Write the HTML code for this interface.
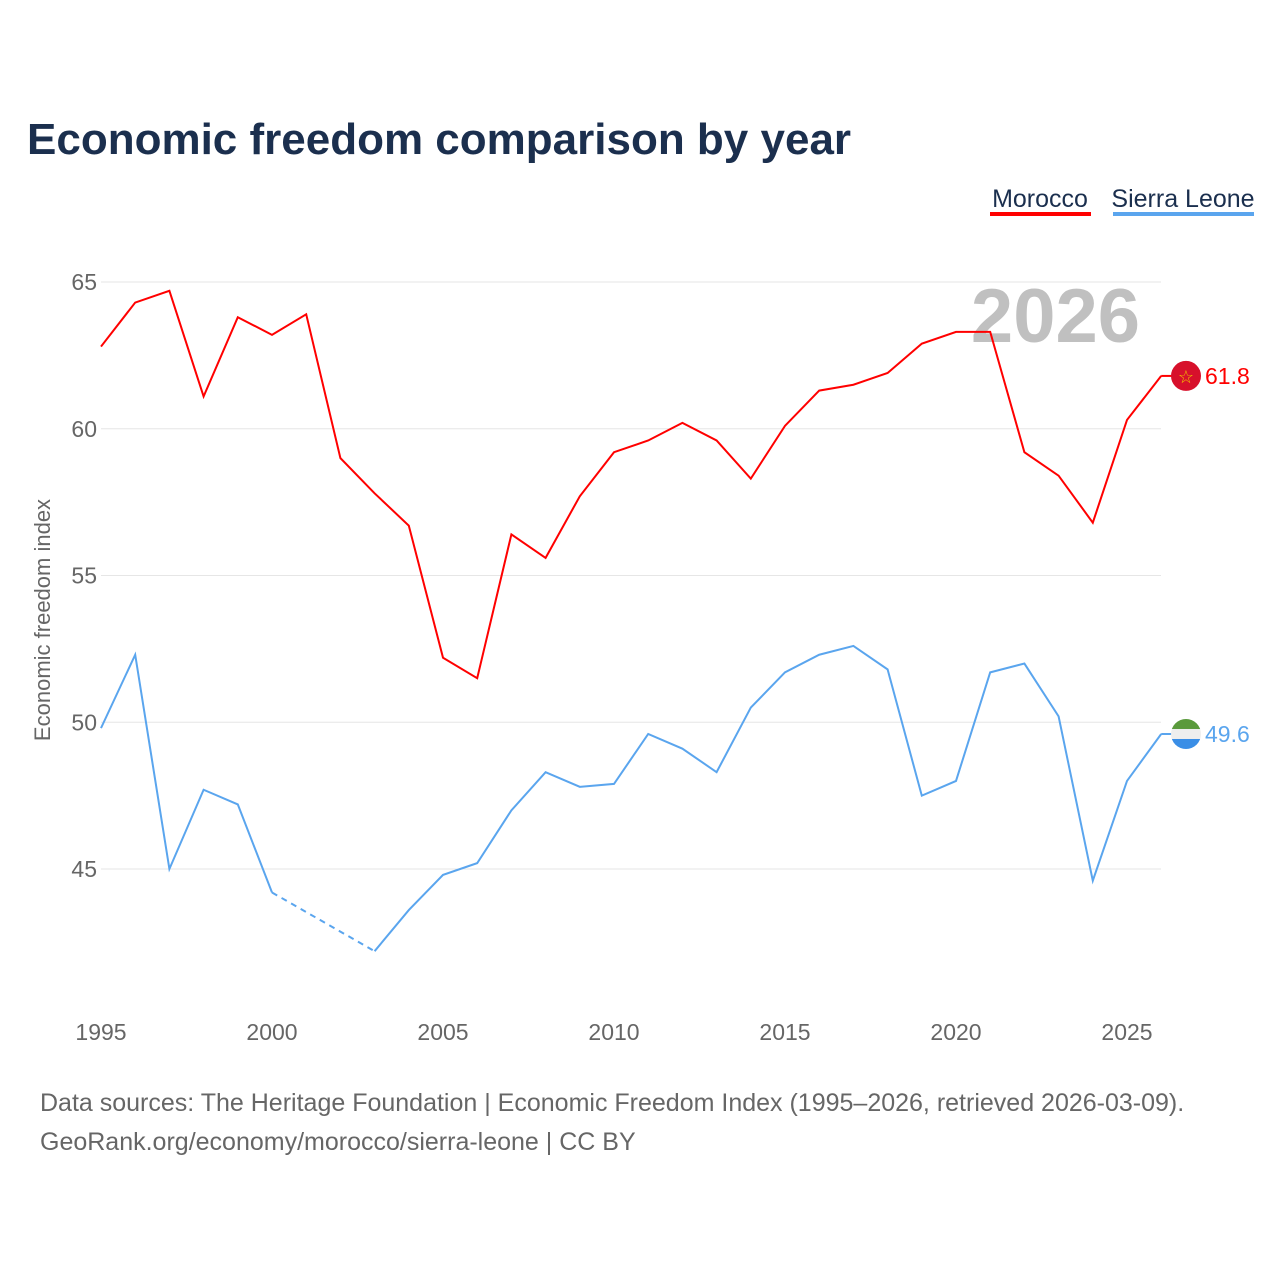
<!DOCTYPE html>
<html><head><meta charset="utf-8"><style>
body{margin:0;background:#fff;font-family:"Liberation Sans",sans-serif;}
</style></head><body>
<svg width="1280" height="1280" xmlns="http://www.w3.org/2000/svg">
<text x="27" y="154" font-size="44" font-weight="bold" fill="#1b2f4e">Economic freedom comparison by year</text>
<g>
<text x="1040" y="207" font-size="25" fill="#1b2f4e" text-anchor="middle">Morocco</text>
<rect x="990" y="212" width="101" height="4" fill="#f00"/>
<text x="1183" y="207" font-size="25" fill="#1b2f4e" text-anchor="middle">Sierra Leone</text>
<rect x="1113" y="212" width="141" height="4" fill="#5aa5ee"/>
</g>
<text x="1140" y="342" font-size="76" font-weight="bold" fill="#c0c0c0" text-anchor="end">2026</text>
<text transform="translate(50,620) rotate(-90)" font-size="22" fill="#666" text-anchor="middle">Economic freedom index</text>
<g id="grid"></g><g id="xt"></g><g id="lines"></g>
<text x="40" y="1111" font-size="25" fill="#666">Data sources: The Heritage Foundation | Economic Freedom Index (1995–2026, retrieved 2026-03-09).</text>
<text x="40" y="1150" font-size="25" fill="#666">GeoRank.org/economy/morocco/sierra-leone | CC BY</text>
</svg>
<script>
const years=[1995,1996,1997,1998,1999,2000,2001,2002,2003,2004,2005,2006,2007,2008,2009,2010,2011,2012,2013,2014,2015,2016,2017,2018,2019,2020,2021,2022,2023,2024,2025,2026];
const morocco=[62.8,64.3,64.7,61.1,63.8,63.2,63.9,59.0,57.8,56.7,52.2,51.5,56.4,55.6,57.7,59.2,59.6,60.2,59.6,58.3,60.1,61.3,61.5,61.9,62.9,63.3,63.3,59.2,58.4,56.8,60.3,61.8];
const sierra=[49.8,52.3,45.0,47.7,47.2,44.2,null,null,42.2,43.6,44.8,45.2,47.0,48.3,47.8,47.9,49.6,49.1,48.3,50.5,51.7,52.3,52.6,51.8,47.5,48.0,51.7,52.0,50.2,44.6,48.0,49.6];
const yTicks=[45,50,55,60,65];
const xTicks=[1995,2000,2005,2010,2015,2020,2025];
const NS="http://www.w3.org/2000/svg";
const X=y=>101+(y-1995)*34.2;
const Y=v=>282+(65-v)*29.35;
function mk(t,a,p){const e=document.createElementNS(NS,t);for(const k in a)e.setAttribute(k,a[k]);p.appendChild(e);return e;}
const grid=document.getElementById('grid'),xt=document.getElementById('xt'),L=document.getElementById('lines');
yTicks.forEach(v=>{
 const l=mk('line',{x1:101,x2:1161,y1:Y(v),y2:Y(v),stroke:'#e6e6e6','stroke-width':1},grid);
 
 
 const t=mk('text',{x:97,y:Y(v)+8,'font-size':23,fill:'#666','text-anchor':'end'},grid);t.textContent=v;
 
 
});
xTicks.forEach(y=>{
 const t=mk('text',{x:X(y),y:1040,'font-size':23,fill:'#666','text-anchor':'middle'},xt);t.textContent=y;
 
 
});
function series(vals,color,name){
 let seg=[],segs=[];
 vals.forEach((v,i)=>{if(v==null){if(seg.length)segs.push(seg);seg=[];}else seg.push([X(years[i]),Y(v)]);});
 if(seg.length)segs.push(seg);
 segs.forEach((s,k)=>{
  const p=mk('polyline',{points:s.map(q=>q.join(',')).join(' '),fill:'none',stroke:color,'stroke-width':2},L);
  
  
  if(k>0){const a=segs[k-1][segs[k-1].length-1],b=s[0];
   const d=mk('line',{x1:a[0],y1:a[1],x2:b[0],y2:b[1],stroke:color,'stroke-width':2,'stroke-dasharray':'6,5'},L);
   
   }
 });
 const last=vals[vals.length-1],lx=X(years[years.length-1]),ly=Y(last);
 mk('line',{x1:lx,y1:ly,x2:1172,y2:ly,stroke:color,'stroke-width':2},L);
 const t=mk('text',{x:1205,y:ly+8,'font-size':23,fill:color},L);t.textContent=last.toFixed(1);
 
 
 return ly;
}
const my=series(morocco,'#f00','morocco');
const sy=series(sierra,'#5aa5ee','sierra-leone');
let f=mk('circle',{cx:1186,cy:my,r:15,fill:'#d7102b'},L);


let st=mk('text',{x:1186,y:my+7,'font-size':18,fill:'#f2c200','text-anchor':'middle'},L);st.textContent='☆';
const g=mk('g',{},L);


mk('clipPath',{id:'cp'},g).appendChild(document.createElementNS(NS,'circle'));
const cc=g.querySelector('circle');cc.setAttribute('cx',1186);cc.setAttribute('cy',sy);cc.setAttribute('r',15);
mk('rect',{x:1171,y:sy-15,width:30,height:10,fill:'#5a9a3c','clip-path':'url(#cp)'},g);
mk('rect',{x:1171,y:sy-5,width:30,height:10,fill:'#eee','clip-path':'url(#cp)'},g);
mk('rect',{x:1171,y:sy+5,width:30,height:10,fill:'#3a8ee6','clip-path':'url(#cp)'},g);
</script>
</body></html>
